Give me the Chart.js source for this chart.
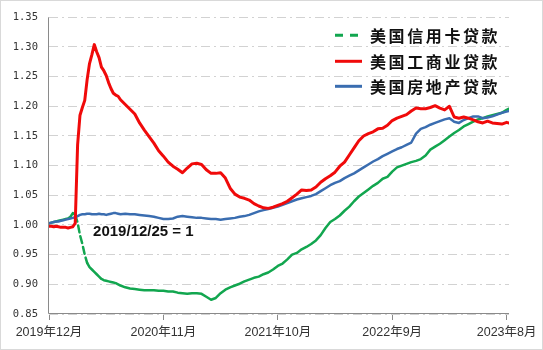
<!DOCTYPE html>
<html><head><meta charset="utf-8">
<script src="https://cdn.jsdelivr.net/npm/chart.js@4.4.1/dist/chart.umd.min.js"></script>
<style>html,body{margin:0;padding:0;background:#fff;}canvas{display:block;}</style>
</head><body>
<canvas id="c" width="543" height="350"></canvas>
<script>
// x positions: weeks since 2019-12-25
const weeks = [0,1,2,3,4,5,6,7,8,9,10,11,12,13,14,15,16,17,18,19,20,21,22,23,24,25,26,27,28,29,30,
32,34,36,38,40,42,44,46,48,50,52,54,56,58,60,62,64,66,68,70,72,74,76,78,80,82,84,86,88,90,
92,94,96,98,100,102,104,106,108,110,112,114,116,118,120,122,124,126,128,130,132,134,136,138,140,
142,144,146,148,150,152,154,156,158,160,162,164,166,168,170,172,174,176,178,180,182,184,186,188,190,192,193];

const tickWeeks = [0,48,96,144,192];
const tickLabels = ['2019年12月','2020年11月','2021年10月','2022年9月','2023年8月'];
const seriesNames = ['美国信用卡贷款','美国工商业贷款','美国房地产贷款'];
const baseNote = '2019/12/25 = 1';

const creditCard = [1.003,1.004,1.005,1.006,1.007,1.008,1.009,1.010,1.011,1.014,1.020,1.017,1.004,0.983,0.968,0.950,0.936,0.929,0.925,0.921,0.917,0.913,0.909,0.907,0.906,0.905,0.904,0.903,0.902,0.900,0.898,
0.895,0.893,0.892,0.891,0.890,0.890,0.890,0.889,0.889,0.888,0.888,0.886,0.885,0.884,0.885,0.885,0.884,0.879,0.874,0.877,
0.885,0.891,0.895,0.898,0.901,0.905,0.908,0.911,0.913,0.917,0.920,0.925,0.931,0.935,0.942,0.950,0.953,0.959,0.963,0.968,
0.974,0.983,0.995,1.005,1.010,1.016,1.024,1.031,1.040,1.048,1.054,1.060,1.066,1.071,1.078,1.081,1.090,1.097,1.100,1.103,
1.106,1.108,1.111,1.117,1.127,1.132,1.137,1.143,1.149,1.155,1.160,1.166,1.170,1.174,1.178,1.180,1.183,1.185,1.187,1.189,1.194,1.196];

const commercial = [0.998,0.998,0.997,0.998,0.997,0.996,0.996,0.996,0.995,0.996,0.997,1.003,1.135,1.185,1.198,1.210,1.245,1.272,1.287,1.304,1.292,1.282,1.266,1.260,1.252,1.240,1.230,1.222,1.219,1.217,1.211,
1.203,1.195,1.187,1.172,1.160,1.149,1.138,1.125,1.116,1.106,1.099,1.094,1.088,1.096,1.103,1.104,1.102,1.093,1.087,1.087,
1.088,1.079,1.062,1.052,1.047,1.045,1.042,1.036,1.032,1.029,1.028,1.030,1.033,1.036,1.040,1.046,1.052,1.059,1.058,1.059,
1.064,1.072,1.078,1.083,1.089,1.099,1.106,1.118,1.130,1.142,1.150,1.154,1.157,1.162,1.163,1.168,1.176,1.180,1.183,1.186,
1.192,1.197,1.196,1.196,1.198,1.201,1.197,1.194,1.200,1.182,1.180,1.182,1.180,1.177,1.174,1.172,1.175,1.172,1.171,1.170,1.173,1.172];

const realEstate = [1.003,1.004,1.005,1.006,1.006,1.007,1.008,1.009,1.010,1.011,1.012,1.013,1.015,1.017,1.018,1.018,1.019,1.019,1.018,1.018,1.018,1.019,1.018,1.018,1.017,1.018,1.019,1.020,1.020,1.019,1.018,
1.019,1.018,1.018,1.017,1.016,1.015,1.014,1.012,1.010,1.010,1.011,1.014,1.015,1.014,1.013,1.012,1.012,1.011,1.010,1.010,
1.009,1.010,1.011,1.012,1.014,1.015,1.017,1.020,1.023,1.025,1.027,1.029,1.031,1.034,1.037,1.040,1.043,1.045,1.047,1.049,
1.052,1.057,1.062,1.067,1.071,1.074,1.079,1.083,1.087,1.092,1.097,1.102,1.107,1.111,1.116,1.120,1.124,1.128,1.131,1.135,
1.139,1.154,1.162,1.165,1.169,1.172,1.175,1.178,1.180,1.174,1.172,1.177,1.180,1.183,1.183,1.180,1.181,1.183,1.186,1.189,1.191,1.192];

const yMin = 0.85, yMax = 1.35, yStep = 0.05;
const xMax = 193;

function pts(vals){ return vals.map((v,i)=>({x:weeks[i], y:v})); }

const COLORS = {green:'#12a64f', red:'#f00a0a', blue:'#3a6db0'};
const CJK = '"Noto Sans CJK SC", "Noto Sans", sans-serif';

const decor = {
  id:'decor',
  beforeDraw(chart){
    const c = chart.ctx;
    c.save(); c.fillStyle='#fff'; c.fillRect(0,0,chart.width,chart.height); c.restore();
  },
  beforeDatasetsDraw(chart){
    const c = chart.ctx, a = chart.chartArea;
    c.save();
    c.strokeStyle = '#8a8a8a'; c.lineWidth = 1; c.setLineDash([]);
    c.beginPath();
    c.moveTo(Math.round(a.left)-0.5, a.top);
    c.lineTo(Math.round(a.left)-0.5, Math.round(a.bottom)-0.5);
    c.lineTo(a.right, Math.round(a.bottom)-0.5);
    c.stroke();
    c.restore();
  },
  afterDraw(chart){
    const c = chart.ctx, a = chart.chartArea;
    const xs = chart.scales.x, ys = chart.scales.y;
    c.save();
    c.strokeStyle = '#d9d9d9'; c.lineWidth = 1;
    c.strokeRect(0.5,0.5,chart.width-1,chart.height-1);
    c.fillStyle = '#111';
    c.font = 'bold 15px "Liberation Sans", Arial, sans-serif';
    c.textAlign = 'left'; c.textBaseline = 'middle';
    c.fillText(baseNote, xs.getPixelForValue(18.5), ys.getPixelForValue(0.988));
    const rows = [a.top+18, a.top+44, a.top+69];
    chart.data.datasets.forEach((ds,i)=>{
      const y = rows[i];
      c.strokeStyle = ds.borderColor;
      c.lineWidth = 3;
      c.setLineDash(ds.legendDash || []);
      c.beginPath(); c.moveTo(335, y); c.lineTo(362, y); c.stroke();
      c.setLineDash([]);
      c.fillStyle = '#111';
      c.font = 'bold 16px ' + CJK;
      c.letterSpacing = '2.6px';
      c.textAlign = 'left'; c.textBaseline = 'middle';
      c.fillText(ds.label, 370, y+1);
      c.letterSpacing = '0px';
    });
    c.restore();
  }
};

new Chart(document.getElementById('c'), {
  type:'line',
  data:{
    datasets:[
      {label:seriesNames[0], data:pts(creditCard), borderColor:COLORS.green, borderWidth:2.5,
       pointRadius:0, order:2, legendDash:[8,7],
       segment:{borderDash: ctx => Math.abs(ctx.p1.parsed.y - ctx.p0.parsed.y) > 0.0125 ? [7,4] : undefined}},
      {label:seriesNames[1], data:pts(commercial), borderColor:COLORS.red, borderWidth:3,
       pointRadius:0, order:0},
      {label:seriesNames[2], data:pts(realEstate), borderColor:COLORS.blue, borderWidth:2.5,
       pointRadius:0, order:1}
    ]
  },
  options:{
    responsive:false, animation:false, devicePixelRatio:1,
    layout:{padding:{top:15, right:34, left:0, bottom:0}},
    plugins:{legend:{display:false}, tooltip:{enabled:false}},
    elements:{line:{tension:0, borderCapStyle:'round', borderJoinStyle:'round'}},
    scales:{
      x:{
        type:'linear', min:0, max:xMax,
        afterFit(s){ s.height = 36; },
        afterBuildTicks(s){ s.ticks = tickWeeks.map(w=>({value:w})); },
        ticks:{autoSkip:false, maxRotation:0,
          color:'#333', padding:5,
          font:{family:'"Liberation Sans", Arial, "Noto Sans CJK SC", sans-serif', size:12.5},
          callback:(v, i)=> tickLabels[i] || ''},
        grid:{drawOnChartArea:false, drawTicks:true, tickLength:6, color:'#8a8a8a', lineWidth:1},
        border:{display:false}
      },
      y:{
        type:'linear', min:yMin, max:yMax,
        afterFit(s){ s.width = 49; },
        ticks:{stepSize:yStep, color:'#333', padding:11,
          font:{family:'"DejaVu Sans Mono", monospace', size:10.5},
          callback:(v)=> v.toFixed(2)},
        grid:{drawTicks:false, color:'#d2d2d2', lineWidth:1},
        border:{display:false, dash:[9,4,2,4]}
      }
    }
  },
  plugins:[decor]
});
</script>
</body></html>
